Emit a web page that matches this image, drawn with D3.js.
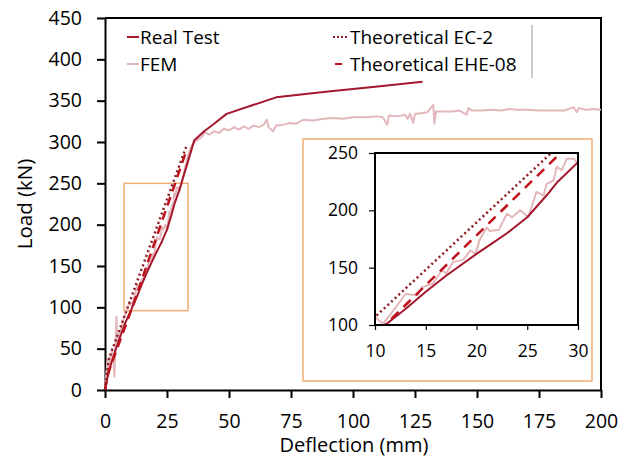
<!DOCTYPE html>
<html lang="en">
<head>
  <meta charset="UTF-8">
  <title>Load vs Deflection</title>
  <script src="https://d3js.org/d3.v7.min.js"></script>
  <style>
    body { margin: 0; background: #fff; font-family: "Open Sans", sans-serif; }
    svg text { fill: #000; }
  </style>
</head>
<body>
  <svg width="634" height="457"></svg>

  <script>
    // ---- data ----
    const xTicks = [0, 25, 50, 75, 100, 125, 150, 175, 200];
    const yTicks = [0, 50, 100, 150, 200, 250, 300, 350, 400, 450];
    const insetXTicks = [10, 15, 20, 25, 30];
    const insetYTicks = [100, 150, 200, 250];

    const realX = [0, 1, 2.5, 5, 8, 11, 13, 15, 17, 20, 21.5, 23, 25, 27, 28, 30, 33, 36, 40, 44, 49, 60, 69, 90, 110, 128];
    const realY = [0, 15, 32, 55, 80, 100, 114, 129, 143, 162, 171, 180, 194, 214, 225, 242, 272, 302, 313, 322, 334, 345, 354, 361, 367, 373];

    const femX = [0, 0.5, 1, 1.3, 1.8, 2.3, 2.8, 3.3, 3.8, 4.2, 4.6, 5, 5.5, 6.5, 7.5, 8.5, 9.5, 10, 10.8, 11.5,
      12.6, 13, 14.2, 14.6, 15.7, 16.6, 17, 17.7, 18.7, 19.4, 19.9, 20.3, 21, 21.3, 22.2, 23, 23.5, 24.3, 25.1, 25.9,
      26.6, 26.9, 27.6, 27.9, 28.4, 28.9, 29.6, 30, 31, 32, 33, 34, 35, 37, 39, 40.3, 42, 44, 46, 48,
      50, 52, 54, 56, 58, 60, 62, 64, 65.2, 66, 67.8, 69, 72, 74.6, 77, 80, 84, 88, 92, 96,
      100, 105, 110, 112, 113.8, 114.5, 118, 121, 122, 123, 124.3, 125, 128, 130, 132.4, 132.8, 133.5, 136, 140, 143,
      145.8, 146.5, 148, 152, 156, 160, 163, 166, 170, 175, 179, 185, 189, 190.2, 191, 194, 197, 200];
    const femY = [0, 18, 35, 22, 40, 32, 50, 38, 16, 55, 89, 58, 66, 74, 86, 94, 103, 107, 101, 109,
      122, 127, 126, 133, 136, 148, 145, 155, 157, 165, 162, 174, 185, 182, 183, 197, 194, 200, 194, 216,
      213, 223, 226, 238, 235, 245, 245, 240, 252, 265, 278, 289, 296, 302, 306, 312, 309, 313, 311, 316,
      314, 318, 315, 319, 316, 320, 318, 321, 327, 318, 313, 320, 321, 323, 322, 327, 326, 328, 329, 328,
      330, 330, 331, 330, 321, 332, 331, 333, 328, 334, 323, 334, 335, 336, 345, 322, 337, 337, 337, 338,
      333, 341, 338, 338, 339, 338, 340, 339, 339, 338, 338, 338, 342, 336, 341, 339, 340, 339];

    const ec2X = [0, 1.5, 32.7];
    const ec2Y = [0, 37, 294];
    const eheX = [0, 1.2, 11, 33];
    const eheY = [0, 20, 100, 291];

    // zoomed region marked on the main chart
    const zoomBoxX = [7.7, 33.5];
    const zoomBoxY = [96, 250];

    const seriesNames = ["Real Test", "FEM", "Theoretical EC-2", "Theoretical EHE-08"];

    const zip = (xs, ys) => xs.map((v, i) => [v, ys[i]]);
    const real = { name: seriesNames[0], pts: zip(realX, realY), color: "#a3182c", width: 2, dash: null };
    const fem = { name: seriesNames[1], pts: zip(femX, femY), color: "#e3b7bb", width: 2, dash: null };
    const ec2 = { name: seriesNames[2], pts: zip(ec2X, ec2Y), color: "#8e1a1f", width: 2.5, dash: "2,3" };
    const ehe = { name: seriesNames[3], pts: zip(eheX, eheY), color: "#c0121c", width: 2.5, dash: "9,6" };
    const drawOrder = [fem, real, ehe, ec2];

    const svg = d3.select("svg");
    const orange = "#f0ae74";

    // ---- main chart ----
    const x = d3.scaleLinear().domain([0, 200]).range([105, 601]);
    const y = d3.scaleLinear().domain([0, 450]).range([390, 18]);

    const line = (sx, sy) => d3.line().x(d => sx(d[0])).y(d => sy(d[1]));

    // frame top/right
    svg.append("path")
      .attr("d", `M${x(0)},${y(450)}H${x(200)}V${y(0)}`)
      .attr("fill", "none").attr("stroke", "#000").attr("stroke-width", 2);

    const gx = svg.append("g").attr("transform", `translate(0,${y(0)})`)
      .call(d3.axisBottom(x).tickValues(xTicks).tickSize(8).tickSizeOuter(0).tickPadding(16));
    const gy = svg.append("g").attr("transform", `translate(${x(0)},0)`)
      .call(d3.axisLeft(y).tickValues(yTicks).tickSize(8).tickSizeOuter(0).tickPadding(15));
    [gx, gy].forEach(g => {
      g.selectAll("path, line").attr("stroke", "#000").attr("stroke-width", 2);
      g.selectAll("text").attr("font-size", 19.5).attr("font-family", "Open Sans").attr("fill", "#000");
    });

    svg.append("text").attr("x", 354).attr("y", 452).attr("text-anchor", "middle")
      .attr("font-size", 20).text("Deflection (mm)");
    svg.append("text").attr("transform", "translate(32,204) rotate(-90)").attr("text-anchor", "middle")
      .attr("font-size", 20.5).text("Load (kN)");

    // zoom box
    svg.append("rect")
      .attr("x", x(zoomBoxX[0])).attr("y", y(zoomBoxY[1]))
      .attr("width", x(zoomBoxX[1]) - x(zoomBoxX[0]))
      .attr("height", y(zoomBoxY[0]) - y(zoomBoxY[1]))
      .attr("fill", "none").attr("stroke", orange).attr("stroke-width", 1.5);

    drawOrder.forEach(s => {
      svg.append("path").datum(s.pts)
        .attr("d", line(x, y))
        .attr("fill", "none").attr("stroke", s.color).attr("stroke-width", s.width)
        .attr("stroke-dasharray", s.dash).attr("stroke-linejoin", "round");
    });

    // legend
    const legItems = [
      { s: real, x0: 127, x1: 139, tx: 140, ty: 44, dash: null },
      { s: fem, x0: 127, x1: 139, tx: 140, ty: 71, dash: null },
      { s: ec2, x0: 333, x1: 348, tx: 350, ty: 44, dash: "2,2" },
      { s: ehe, x0: 335, x1: 342, tx: 350, ty: 71, dash: null }
    ];
    legItems.forEach(it => {
      svg.append("line").attr("x1", it.x0).attr("x2", it.x1).attr("y1", it.ty - 7).attr("y2", it.ty - 7)
        .attr("stroke", it.s.color).attr("stroke-width", 2).attr("stroke-dasharray", it.dash);
      svg.append("text").attr("x", it.tx).attr("y", it.ty).attr("font-size", 19).text(it.s.name);
    });
    svg.append("line").attr("x1", 532).attr("x2", 532).attr("y1", 25).attr("y2", 78)
      .attr("stroke", "#bbb").attr("stroke-width", 1.5);

    // ---- inset ----
    svg.append("rect").attr("x", 303).attr("y", 139).attr("width", 289).attr("height", 242)
      .attr("fill", "#fff").attr("stroke", orange).attr("stroke-width", 1.5);

    const xi = d3.scaleLinear().domain([10, 30]).range([375, 578]);
    const yi = d3.scaleLinear().domain([100, 250]).range([325, 153]);

    svg.append("clipPath").attr("id", "inset-clip").append("rect")
      .attr("x", 375).attr("y", 153).attr("width", 203).attr("height", 172);

    const gi = svg.append("g").attr("clip-path", "url(#inset-clip)");
    drawOrder.forEach(s => {
      gi.append("path").datum(s.pts)
        .attr("d", line(xi, yi))
        .attr("fill", "none").attr("stroke", s.color).attr("stroke-width", s.width)
        .attr("stroke-dasharray", s.dash === "9,6" ? "10,7" : s.dash).attr("stroke-linejoin", "round");
    });

    svg.append("rect").attr("x", 375).attr("y", 153).attr("width", 203).attr("height", 172)
      .attr("fill", "none").attr("stroke", "#000").attr("stroke-width", 2);

    const gxi = svg.append("g").attr("transform", "translate(0,325)")
      .call(d3.axisBottom(xi).tickValues(insetXTicks).tickSize(5).tickSizeOuter(0).tickPadding(15));
    const gyi = svg.append("g").attr("transform", "translate(375,0)")
      .call(d3.axisLeft(yi).tickValues(insetYTicks).tickSize(6).tickSizeOuter(0).tickPadding(11));
    [gxi, gyi].forEach(g => {
      g.select(".domain").remove();
      g.selectAll("line").attr("stroke", "#000").attr("stroke-width", 1.2);
      g.selectAll("text").attr("font-size", 17.5).attr("font-family", "Open Sans").attr("fill", "#000");
    });
  </script>
</body>
</html>
